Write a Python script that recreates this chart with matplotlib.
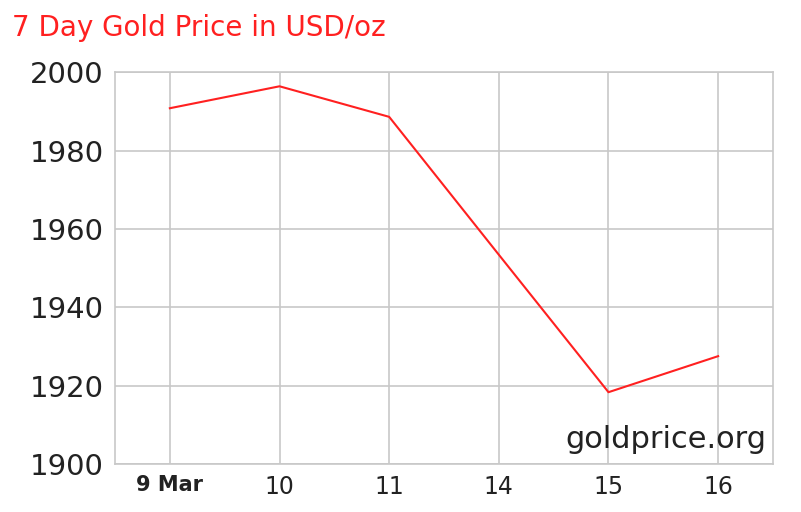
import matplotlib
matplotlib.use("Agg")
import matplotlib.pyplot as plt

days = ["9 Mar", "10", "11", "14", "15", "16"]
prices = [1990.8, 1996.4, 1988.6, 1953.4, 1918.3, 1927.5]

fig = plt.figure(figsize=(8.01, 5.12), dpi=100)
ax = fig.add_axes([0.1436, 0.094, 0.8214, 0.765])

x = list(range(len(days)))
ax.plot(x, prices, color="#ff2020", linewidth=1.5)

ax.set_xlim(-0.5, len(days) - 0.5)
ax.set_ylim(1900, 2000)
ax.set_yticks(range(1900, 2001, 20))
ax.set_xticks(x)
ax.set_xticklabels(days)
ax.grid(True, color="#c8c8c8", linewidth=1.2)
for s in ax.spines.values():
    s.set_color("#c8c8c8")
    s.set_linewidth(1.2)
ax.tick_params(length=0)
ax.tick_params(axis="y", labelsize=21, pad=8, labelcolor="#222222")
ax.tick_params(axis="x", labelsize=17, pad=8, labelcolor="#222222")
ax.get_xticklabels()[0].set_fontweight("bold")
ax.get_xticklabels()[0].set_fontsize(15)

ax.text(0.99, 0.025, "goldprice.org", transform=ax.transAxes, ha="right", va="bottom",
        fontsize=22, color="#222222")
fig.text(0.015, 0.945, "7 Day Gold Price in USD/oz", color="#ff2020", fontsize=20,
         ha="left", va="center")

fig.savefig("out.png", dpi=100)
